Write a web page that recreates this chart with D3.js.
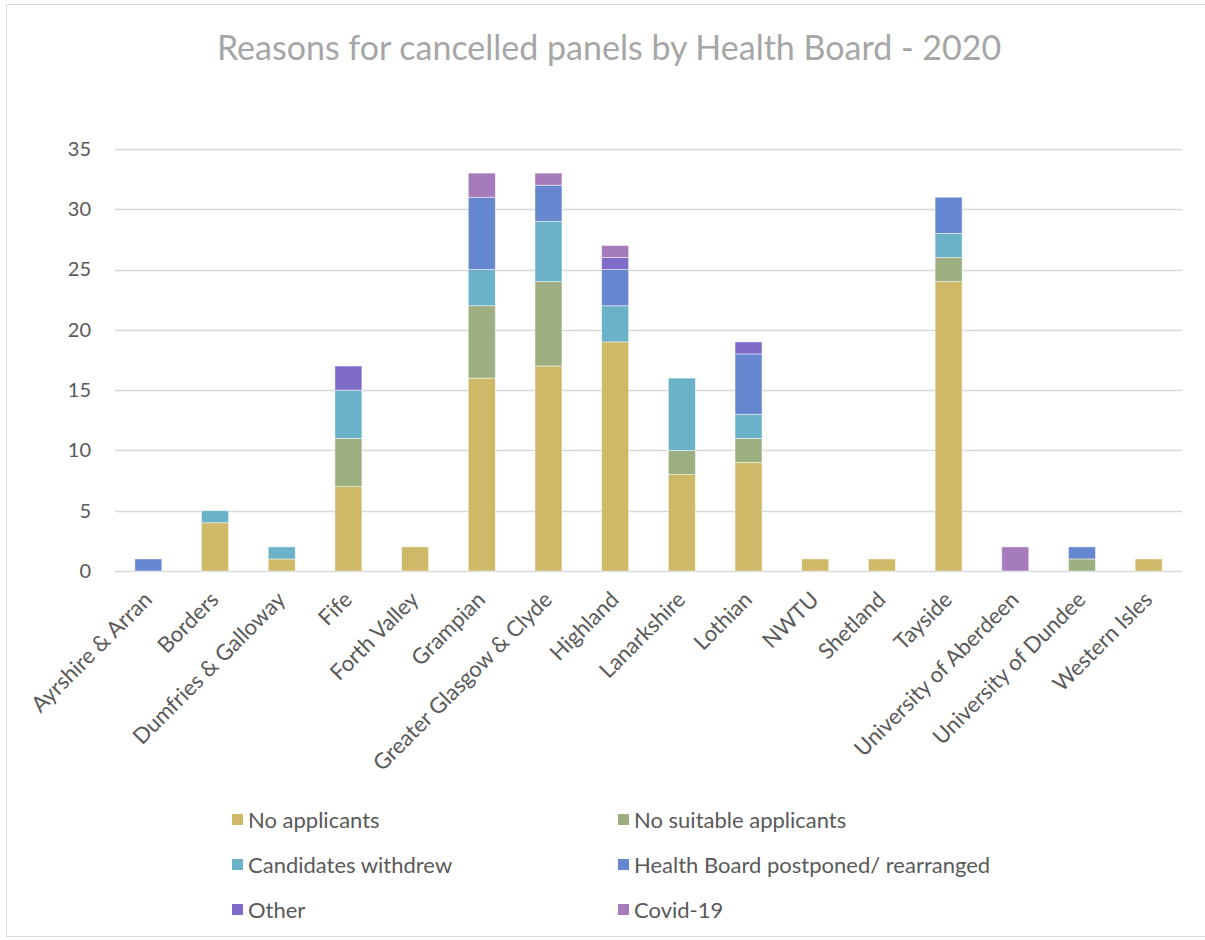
<!DOCTYPE html>
<html>
<head>
<meta charset="utf-8">
<script src="https://cdn.jsdelivr.net/npm/d3@7"></script>
<style>
  html, body { margin: 0; padding: 0; background: #fff; }
  svg { display: block; font-family: Lato, "Open Sans", sans-serif; }
</style>
</head>
<body>
<svg id="chart" width="1205" height="940"></svg>
<script>
// Health boards along the x axis
const boards = [
  "Ayrshire & Arran", "Borders", "Dumfries & Galloway", "Fife", "Forth Valley",
  "Grampian", "Greater Glasgow & Clyde", "Highland", "Lanarkshire", "Lothian",
  "NWTU", "Shetland", "Tayside", "University of Aberdeen", "University of Dundee",
  "Western Isles"
];

// Reasons (stack order, bottom to top)
const reasons = [
  "No applicants", "No suitable applicants", "Candidates withdrew",
  "Health Board postponed/ rearranged", "Other", "Covid-19"
];
const reasonColors = ["#cdb967", "#9daf81", "#6bb1c8", "#6687cf", "#7f6cc8", "#a57bbb"];

// Cancelled panels per board, one array per reason
const noApplicants        = [0, 4, 1, 7, 2, 16, 17, 19, 8, 9, 1, 1, 24, 0, 0, 1];
const noSuitable          = [0, 0, 0, 4, 0, 6, 7, 0, 2, 2, 0, 0, 2, 0, 1, 0];
const candidatesWithdrew  = [0, 1, 1, 4, 0, 3, 5, 3, 6, 2, 0, 0, 2, 0, 0, 0];
const boardPostponed      = [1, 0, 0, 0, 0, 6, 3, 3, 0, 5, 0, 0, 3, 0, 1, 0];
const other               = [0, 0, 0, 2, 0, 0, 0, 1, 0, 1, 0, 0, 0, 0, 0, 0];
const covid19             = [0, 0, 0, 0, 0, 2, 1, 1, 0, 0, 0, 0, 0, 2, 0, 0];

const yTicks = [0, 5, 10, 15, 20, 25, 30, 35];
const title = "Reasons for cancelled panels by Health Board - 2020";

const seriesValues = [noApplicants, noSuitable, candidatesWithdrew, boardPostponed, other, covid19];
const table = boards.map((b, i) => {
  const row = { board: b };
  reasons.forEach((r, k) => { row[r] = seriesValues[k][i]; });
  return row;
});

const svg = d3.select("#chart");
const margin = { left: 115, right: 23, top: 149, bottom: 369 };
const W = 1205, H = 940;
const plotW = W - margin.left - margin.right;
const plotH = H - margin.top - margin.bottom;

// Chart frame
svg.append("rect")
  .attr("x", 6.5).attr("y", 4.5)
  .attr("width", 1210).attr("height", 932)
  .attr("fill", "#fff").attr("stroke", "#d9d9d9").attr("stroke-width", 1);

// Title
svg.append("text")
  .attr("x", 609).attr("y", 60)
  .attr("text-anchor", "middle")
  .attr("fill", "#a6a6a6")
  .attr("font-size", 34)
  .text(title);

const g = svg.append("g").attr("transform", `translate(${margin.left},${margin.top})`);

const x = d3.scaleBand().domain(boards).range([0, plotW]).paddingInner(0.595).paddingOuter(0.2975);
const y = d3.scaleLinear().domain([0, 35]).range([plotH, 0]);

// Gridlines
g.append("g")
  .selectAll("line")
  .data(yTicks)
  .join("line")
  .attr("x1", 0).attr("x2", plotW)
  .attr("y1", d => Math.round(y(d)) + 0.5).attr("y2", d => Math.round(y(d)) + 0.5)
  .attr("stroke", "#d9d9d9").attr("stroke-width", 1.3);

// Y axis labels
const yAxis = d3.axisLeft(y).tickValues(yTicks).tickSize(0).tickPadding(24);
g.append("g").call(yAxis)
  .call(s => s.select(".domain").remove())
  .selectAll("text")
  .attr("fill", "#595959").attr("font-size", 20)
  .attr("font-family", "Lato, 'Open Sans', sans-serif");

// Stacked bars
const stack = d3.stack().keys(reasons);
const layers = stack(table);

g.append("g")
  .selectAll("g")
  .data(layers)
  .join("g")
  .attr("fill", (d, i) => reasonColors[i])
  .selectAll("rect")
  .data(d => d.filter(s => s[1] - s[0] > 0))
  .join("rect")
  .attr("x", d => x(d.data.board))
  .attr("width", x.bandwidth())
  .attr("y", d => y(d[1]))
  .attr("height", d => y(d[0]) - y(d[1]))
  .attr("stroke", "rgba(255,255,255,0.6)")
  .attr("stroke-width", 0.8);

// X axis labels, rotated
const xAxis = d3.axisBottom(x).tickSize(0).tickPadding(0);
g.append("g")
  .attr("transform", `translate(0,${plotH})`)
  .call(xAxis)
  .call(s => s.select(".domain").remove())
  .selectAll("text")
  .attr("fill", "#595959").attr("font-size", 22)
  .attr("font-family", "Lato, 'Open Sans', sans-serif")
  .attr("text-anchor", "end")
  .attr("dy", "0")
  .attr("transform", "translate(5,30) rotate(-45)");

// Legend
const legendCols = [232, 618];
const legendRows = [820, 865, 910];
const legend = svg.append("g")
  .selectAll("g")
  .data(reasons)
  .join("g")
  .attr("transform", (d, i) => `translate(${legendCols[i % 2]},${legendRows[Math.floor(i / 2)]})`);

legend.append("rect")
  .attr("x", 0).attr("y", -6)
  .attr("width", 11).attr("height", 11)
  .attr("fill", (d, i) => reasonColors[i]);

legend.append("text")
  .attr("x", 16).attr("y", 0)
  .attr("dy", "0.35em")
  .attr("fill", "#595959")
  .attr("font-size", 22)
  .text(d => d);
</script>
</body>
</html>
